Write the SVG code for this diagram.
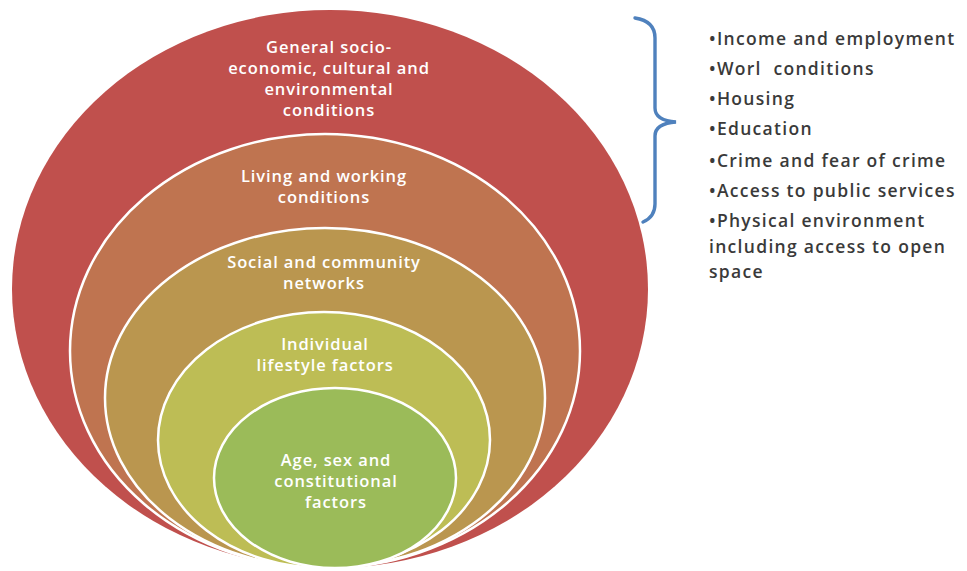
<svg xmlns="http://www.w3.org/2000/svg" width="967" height="571" viewBox="0 0 967 571">
<style>
.ring{stroke:#ffffff;stroke-width:2.5}
.lbl{font-family:"Open Sans","Liberation Sans",sans-serif;font-weight:600;font-size:16.5px;letter-spacing:0.9px;fill:#ffffff;text-anchor:middle}
.lst{font-family:"Open Sans","Liberation Sans",sans-serif;font-weight:600;font-size:17.5px;letter-spacing:1.3px;fill:#3a3a3a}
</style>
<rect width="967" height="571" fill="#ffffff"/>
<g id="node-general">
<ellipse cx="330" cy="289" rx="318" ry="279" fill="#C0504D"/>
<text class="lbl"><tspan x="329" y="53">General socio-</tspan><tspan x="329" y="74">economic, cultural and</tspan><tspan x="329" y="95">environmental</tspan><tspan x="329" y="116">conditions</tspan></text>
</g>
<g id="node-living">
<ellipse class="ring" cx="325" cy="351" rx="255" ry="217" fill="#BF7450"/>
<text class="lbl"><tspan x="324" y="182">Living and working</tspan><tspan x="324" y="203">conditions</tspan></text>
</g>
<g id="node-social">
<ellipse class="ring" cx="325" cy="398" rx="220" ry="170" fill="#BA964F"/>
<text class="lbl"><tspan x="324" y="268">Social and community</tspan><tspan x="324" y="289">networks</tspan></text>
</g>
<g id="node-individual">
<ellipse class="ring" cx="324" cy="440" rx="166" ry="128" fill="#BDBD55"/>
<text class="lbl"><tspan x="325" y="350">Individual</tspan><tspan x="325" y="371">lifestyle factors</tspan></text>
</g>
<g id="node-age">
<ellipse class="ring" cx="335" cy="478" rx="121" ry="90" fill="#9BBB59"/>
<text class="lbl"><tspan x="336" y="466">Age, sex and</tspan><tspan x="336" y="487">constitutional</tspan><tspan x="336" y="508">factors</tspan></text>
</g>
<g id="connectors">
<path d="M635 18 C648 20 655 26 655 38 L655 108 C655 117 662 121 676 122 C662 123 655 127 655 136 L655 204 C655 214 650 219 643 222" fill="none" stroke="#4F81BD" stroke-width="3.4" stroke-linecap="round"/>
</g>
<g id="node-list">
<text class="lst" x="709" y="45">•Income and employment</text>
<text class="lst" x="709" y="75" style="white-space:pre">•Worl  conditions</text>
<text class="lst" x="709" y="105">•Housing</text>
<text class="lst" x="709" y="135">•Education</text>
<text class="lst" x="709" y="167">•Crime and fear of crime</text>
<text class="lst" x="709" y="197">•Access to public services</text>
<text class="lst" x="709" y="227">•Physical environment</text>
<text class="lst" x="709" y="253">including access to open</text>
<text class="lst" x="709" y="278">space</text>
</g>
</svg>
